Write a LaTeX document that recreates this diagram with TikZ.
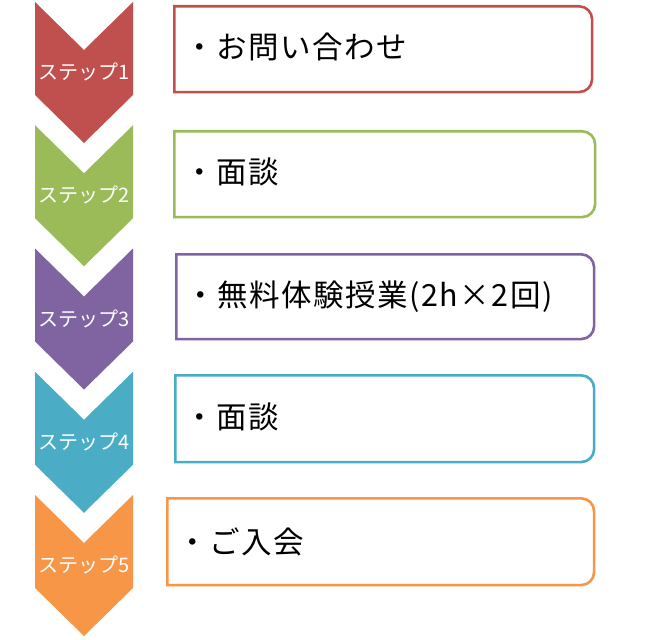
\documentclass[tikz,border=0pt]{standalone}
\usepackage{fontspec}
\newfontfamily\jp{Noto Sans CJK JP}
\newfontfamily\jpwide[LetterSpace=5]{Noto Sans CJK JP}
\definecolor{cA}{HTML}{C0504D}
\definecolor{cB}{HTML}{9BBB59}
\definecolor{cC}{HTML}{8064A2}
\definecolor{cD}{HTML}{4BACC6}
\definecolor{cE}{HTML}{F79646}
\begin{document}
\begin{tikzpicture}[x=1pt,y=-1pt,
  steplabel/.style={text=white, font=\jp\fontsize{20}{22}\selectfont, inner sep=0pt},
  boxframe/.style={draw=#1, line width=2.6pt, fill=white, line join=miter},
  boxhold/.style={inner sep=0pt, anchor=north west},
  boxtext/.style={font=\jpwide\fontsize{30.5}{34}\selectfont, anchor=west, inner sep=0pt, text=black}]
\useasboundingbox (0,0) rectangle (663,639);
\fill[white] (0,0) rectangle (663,639);
% chevrons
\foreach \i/\c/\t in {1/cA/2, 2/cB/125.25, 3/cC/248.5, 4/cD/371.75, 5/cE/495}{
  \fill[\c] (35,\t) -- (84,\t+48) -- (133,\t) -- (133,\t+93) -- (84,\t+141) -- (35,\t+93) -- cycle;
  \node[steplabel] (s\i) at (84,\t+70) {ステップ\i};
}
% boxes
\foreach \i/\c/\xa/\ya/\w/\h/\tx/\ty/\txt in {
  1/cA/174.3/6.3/417.4/85.4/184/47/・お問い合わせ,
  2/cB/174.3/131.3/420.4/85.4/184/172/・面談,
  3/cC/176.3/254.3/417.4/84.4/185/297/・無料体験授業(2h×2回),
  4/cD/175.3/375.3/418.4/86.4/184/417/・面談,
  5/cE/167.3/498.3/426.4/86.4/177/542/・ご入会}{
  \node[boxhold, minimum width=\w pt, minimum height=\h pt] (b\i) at (\xa,\ya) {};
  \draw[boxframe=\c] (b\i.north west) -- ([xshift=-13pt]b\i.north east)
     arc[start angle=90, end angle=0, radius=13pt]
     -- ([yshift=13pt]b\i.south east)
     arc[start angle=0, end angle=-90, radius=13pt]
     -- (b\i.south west) -- cycle;
  \node[boxtext] (t\i) at (\tx,\ty) {\txt};
}
\end{tikzpicture}
\end{document}
